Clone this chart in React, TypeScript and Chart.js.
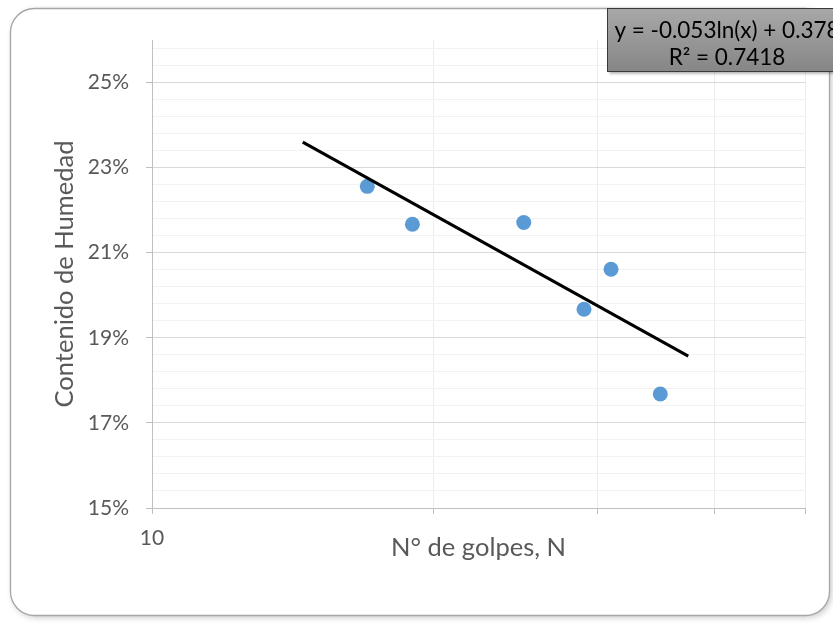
import React, { useEffect, useRef } from 'react';
import { Chart, registerables } from 'chart.js';

Chart.register(...registerables);

// ---- data ----
const GOLPES = [17, 19, 25, 29, 31, 35];
const HUMEDAD = [22.56, 21.67, 21.71, 19.67, 20.61, 17.68];
const TREND_X = [14.5, 37.5];
const TREND_Y = [23.6, 18.57];
const X_TICKS = [10, 20, 30, 40, 50];
const X_TICK_LABELS = ['10', '', '', '', ''];
const Y_MAJOR_TICKS = [15, 17, 19, 21, 23, 25];
const Y_MINOR_STEP = 0.4;
const Y_MIN = 15;
const Y_MAX = 26;
const EQ_LINES = ['y = -0.053ln(x) + 0.378', 'R² = 0.7418'];
const X_TITLE = 'N° de golpes, N';
const Y_TITLE = 'Contenido de Humedad';

const FONT = 'Lato';
const TEXT = '#595959';

const isMajorY = (v: number) => Y_MAJOR_TICKS.some((m) => Math.abs(m - v) < 1e-6);

const framePlugin = {
  id: 'frame',
  beforeDraw(chart: any) {
    const ctx = chart.ctx;
    ctx.save();
    ctx.fillStyle = '#ffffff';
    ctx.fillRect(0, 0, chart.width, chart.height);
    const x = 10.5, y = 8.5, w = 819, h = 607, r = 24;
    ctx.beginPath();
    ctx.roundRect(x, y, w, h, r);
    ctx.shadowColor = 'rgba(0,0,0,0.22)';
    ctx.shadowBlur = 6;
    ctx.shadowOffsetX = 2;
    ctx.shadowOffsetY = 2;
    ctx.fillStyle = '#ffffff';
    ctx.fill();
    ctx.shadowColor = 'transparent';
    ctx.lineWidth = 1.3;
    ctx.strokeStyle = '#a6a6a6';
    ctx.stroke();
    ctx.restore();
  },
  afterDraw(chart: any) {
    const ctx = chart.ctx;
    ctx.save();
    const bx = 607.5, by = 8.5, bw = 260, bh = 63;
    const g = ctx.createLinearGradient(0, by, 0, by + bh);
    g.addColorStop(0, '#a8a8a8');
    g.addColorStop(1, '#868686');
    ctx.shadowColor = 'rgba(0,0,0,0.35)';
    ctx.shadowBlur = 3;
    ctx.shadowOffsetX = 1;
    ctx.shadowOffsetY = 2;
    ctx.fillStyle = g;
    ctx.fillRect(bx, by, bw, bh);
    ctx.shadowColor = 'transparent';
    ctx.strokeStyle = '#3a3a3a';
    ctx.lineWidth = 1;
    ctx.strokeRect(bx, by, bw, bh);
    ctx.fillStyle = '#000000';
    ctx.font = `22.5px ${FONT}`;
    ctx.textAlign = 'center';
    ctx.textBaseline = 'middle';
    ctx.fillText(EQ_LINES[0], 727, 31);
    ctx.fillText(EQ_LINES[1], 727, 58);
    ctx.restore();
  },
};

export default function App() {
  const ref = useRef<HTMLCanvasElement>(null);

  useEffect(() => {
    if (!ref.current) return;
    const chart = new Chart(ref.current, {
      type: 'scatter',
      data: {
        datasets: [
          {
            label: 'Trend',
            data: TREND_X.map((x, i) => ({ x, y: TREND_Y[i] })),
            showLine: true,
            borderColor: '#000000',
            borderWidth: 3,
            pointRadius: 0,
            order: 0,
          },
          {
            label: 'Humedad',
            data: GOLPES.map((x, i) => ({ x, y: HUMEDAD[i] })),
            backgroundColor: '#5b9bd5',
            borderColor: '#5b9bd5',
            borderWidth: 0,
            pointRadius: 7.5,
            order: 1,
          },
        ],
      },
      options: {
        responsive: false,
        animation: false,
        devicePixelRatio: 1,
        layout: { padding: { left: 0, right: 28, top: 40, bottom: 0 } },
        plugins: { legend: { display: false }, tooltip: { enabled: false } },
        scales: {
          x: {
            type: 'logarithmic',
            min: 10,
            max: 50,
            afterFit: (s: any) => {
              s.height = 116;
            },
            afterBuildTicks: (s: any) => {
              s.ticks = X_TICKS.map((v) => ({ value: v }));
            },
            ticks: {
              autoSkip: false,
              maxRotation: 0,
              color: TEXT,
              font: { family: FONT, size: 21 },
              padding: 12,
              callback: (_v: any, i: number) => X_TICK_LABELS[i],
            },
            grid: {
              color: (c: any) => (c.tick && c.tick.value === 10 ? '#bfbfbf' : '#ededed'),
              tickColor: '#bfbfbf',
              tickLength: 6,
              lineWidth: 1,
            },
            border: { color: '#bfbfbf', width: 1 },
            title: {
              display: true,
              text: X_TITLE,
              color: TEXT,
              font: { family: FONT, size: 25.5 },
              padding: { top: 0, bottom: 61 },
            },
          },
          y: {
            type: 'linear',
            min: Y_MIN,
            max: Y_MAX,
            afterFit: (s: any) => {
              s.width = 152;
            },
            afterBuildTicks: (s: any) => {
              const t: any[] = [];
              for (let i = 0; Y_MIN + i * Y_MINOR_STEP < Y_MAX - 1e-6; i++) {
                t.push({ value: Math.round((Y_MIN + i * Y_MINOR_STEP) * 10) / 10 });
              }
              s.ticks = t;
            },
            ticks: {
              autoSkip: false,
              color: TEXT,
              font: { family: FONT, size: 21 },
              padding: 17,
              callback: (v: any) => (isMajorY(Number(v)) ? `${Math.round(Number(v))}%` : ''),
            },
            grid: {
              color: (c: any) => {
                const v = c.tick ? c.tick.value : 0;
                if (Math.abs(v - Y_MIN) < 1e-6) return '#bfbfbf';
                return isMajorY(v) ? '#d9d9d9' : '#f2f2f2';
              },
              tickColor: (c: any) => (c.tick && isMajorY(c.tick.value) ? '#bfbfbf' : 'rgba(0,0,0,0)'),
              tickLength: 6,
              lineWidth: 1,
            },
            border: { color: '#bfbfbf', width: 1 },
            title: {
              display: true,
              text: Y_TITLE,
              color: TEXT,
              font: { family: FONT, size: 25.5 },
              padding: { top: 49, bottom: 0 },
            },
          },
        },
      } as any,
      plugins: [framePlugin],
    });
    return () => chart.destroy();
  }, []);

  return (
    <div style={{ position: 'absolute', left: 0, top: 0, width: 833, height: 624 }}>
      <canvas ref={ref} width={833} height={624} style={{ width: 833, height: 624, display: 'block' }} />
    </div>
  );
}
